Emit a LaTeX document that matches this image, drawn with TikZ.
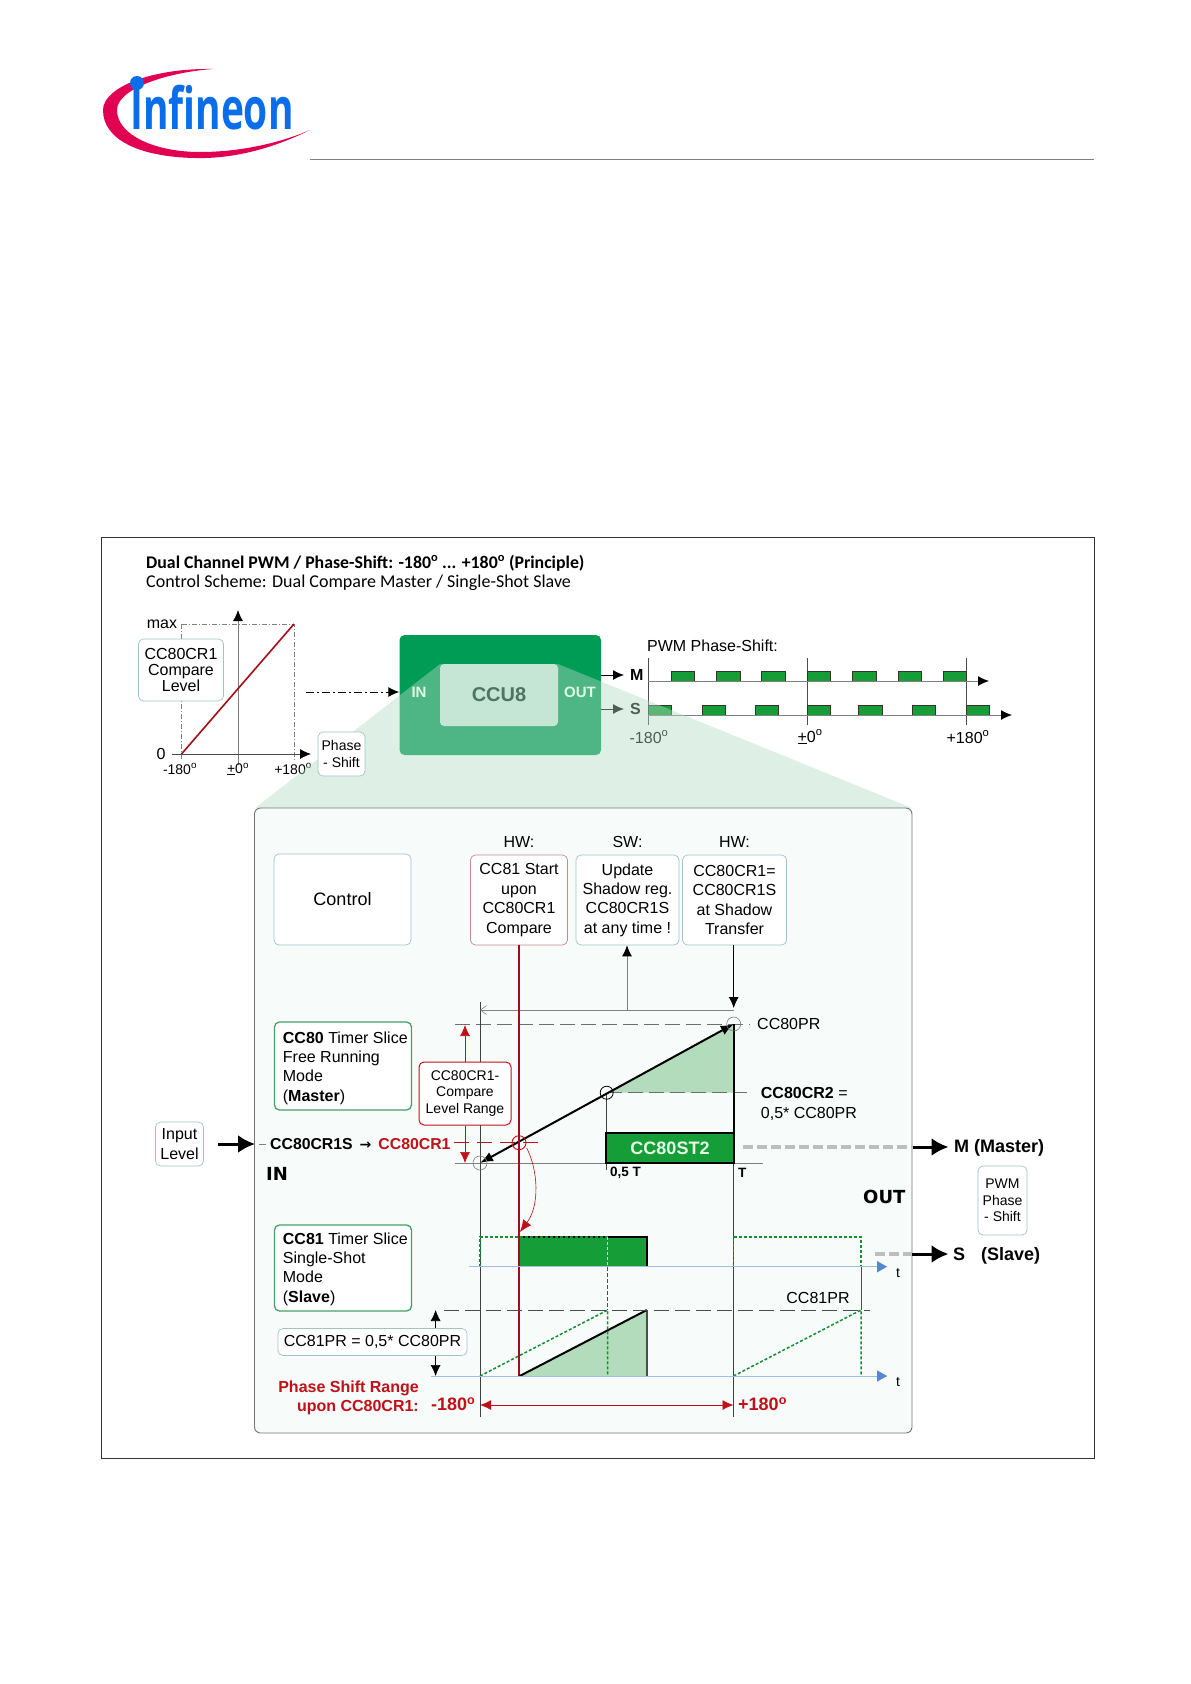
\documentclass[tikz,border=0pt]{standalone}
\usepackage{fontspec}
\setmainfont{Liberation Sans}
\newfontfamily\titlefont{Carlito}
\newfontfamily\logofont[FakeStretch=0.67]{Open Sans}
\newfontfamily\arrowfont{DejaVu Sans}
\usetikzlibrary{arrows.meta, calc}
\definecolor{logored}{RGB}{226,0,80}
\definecolor{logoblue}{RGB}{10,110,235}
\definecolor{ccudark}{RGB}{0,155,85}
\definecolor{ccuinner}{RGB}{197,230,213}
\definecolor{ccutext}{RGB}{80,115,100}
\definecolor{funnel}{RGB}{179,218,195}
\definecolor{panelbg}{RGB}{247,251,250}
\definecolor{pulsegreen}{RGB}{21,158,55}
\definecolor{trilight}{RGB}{178,220,187}
\definecolor{myred}{RGB}{192,16,24}
\definecolor{mygray}{RGB}{110,110,110}
\definecolor{mgframe}{RGB}{160,195,200}
\definecolor{redframe}{RGB}{195,140,140}
\definecolor{greenframe}{RGB}{70,160,105}
\definecolor{axisblue}{RGB}{85,135,205}
\definecolor{dashgray}{RGB}{190,190,190}
\newcommand{\dg}{\textsuperscript{o}}
\tikzset{
  lbl/.style={inner sep=0pt, align=center, font=\fontsize{16}{19.4}\selectfont},
  lblleft/.style={inner sep=0pt, align=left, anchor=west, font=\fontsize{16}{19.4}\selectfont},
  lblsmall/.style={inner sep=0pt, align=center, font=\fontsize{14}{16.7}\selectfont},
  lblbold/.style={inner sep=0pt, anchor=west, font=\fontsize{18}{21}\selectfont\bfseries},
  lblheavy/.style={inner sep=0pt, anchor=west, font=\fontsize{18}{21}\arrowfont\bfseries},
  infobox/.style={rectangle, draw=mgframe, fill=white, rounded corners=5pt, line width=0.7pt,
    inner sep=0pt, align=center, font=\fontsize{16}{19.4}\selectfont},
  redbox/.style={infobox, draw=redframe},
  slicebox/.style={rectangle, draw=greenframe, fill=white, rounded corners=5pt, line width=1.3pt,
    inner sep=0pt},
  rangebox/.style={infobox, draw=myred, line width=1pt, font=\fontsize{14}{16.7}\selectfont},
  blackhead/.style={-{Latex[length=11pt,width=10pt,black]}, color=black},
  grayline/.style={color=gray, line width=0.6pt},
  thinline/.style={color=black!70, line width=0.6pt},
  guide/.style={color=mygray, line width=1pt, dash pattern=on 15pt off 6pt},
  greendash/.style={color=pulsegreen!90!black, line width=1.5pt, dash pattern=on 3pt off 2pt},
  fatarrow/.style={-{Latex[length=17pt,width=18pt]}, line width=3pt, color=black},
  graydash/.style={color=dashgray, line width=3.5pt, dash pattern=on 10pt off 4pt},
  pulse/.style={draw=black!80, fill=pulsegreen, line width=0.9pt},
  tagline/.style={color=myred, line width=0.7pt},
  redhead/.style={-{Latex[length=11pt,width=10pt]}, color=myred},
  blueaxis/.style={color=axisblue!55, line width=1pt},
  ringgray/.style={circle, draw=gray, minimum size=14pt, inner sep=0pt, line width=0.6pt},
}
\begin{document}
\begin{tikzpicture}[x=1pt, y=-1pt]
  \useasboundingbox (0,0) rectangle (1191,1684);
  % Logo
  \fill[logored] (310,130) .. controls (270,150) and (230,159) .. (195,158)
    .. controls (140,157) and (103,140) .. (103,110)
    .. controls (103,88) and (150,68) .. (213,69)
    .. controls (170,72) and (117,88) .. (117,110)
    .. controls (117,135) and (155,152) .. (200,152)
    .. controls (240,152) and (280,143) .. (310,130) -- cycle;
  \node[inner sep=0pt, anchor=base west, text=logoblue, font=\fontsize{58}{58}\logofont\bfseries] (logotext) at (130,129) {Infineon};
  \fill[logoblue] (137,83) circle (7);
  \draw[color=gray, line width=0.7pt] (310,159) -- (1094,159);

  % Outer frame
  \draw[line width=0.8pt, color=black!80] (101,537) rectangle (1094,1458);
  \node[inner sep=0pt, anchor=base west, font=\fontsize{17.8}{20}\titlefont\bfseries] (title) at (146,568) {Dual Channel PWM / Phase-Shift: -180\dg{} ... +180\dg{} (Principle)};
  \node[inner sep=0pt, anchor=base west, font=\fontsize{18}{20}\titlefont] (subtitle) at (146,587) {Control Scheme: Dual Compare Master / Single-Shot Slave};

  % Compare level chart
  \coordinate (xleft) at (172,754);
  \coordinate (xright) at (311,754);
  \coordinate (ybot) at (238,765);
  \coordinate (ytop) at (238,610);
  \draw[grayline, dash pattern=on 5pt off 2pt on 1pt off 2pt] (181.5,624) -- (294,624) -- (294,760);
  \draw[grayline, dash pattern=on 5pt off 2pt on 1pt off 2pt] (181.5,624) -- (181.5,760);
  \draw[blackhead, color=gray, line width=0.8pt] (ybot) -- (ytop);
  \draw[blackhead, color=black!70, line width=0.8pt] (xleft) -- (xright);
  \draw[color=myred!85!black, line width=1.6pt] (181.5,754) -- (294,624);
  \node[lbl] (maxlbl) at (162,624) {max};
  \node[lbl] (zerolbl) at (161,754) {0};
  \node[lblsmall] (ang0) at (180,769) {-180\dg};
  \node[lblsmall] (ang1) at (238,769) {\underline{+}0\dg};
  \node[lblsmall] (ang2) at (293,769) {+180\dg};
  \node[infobox, minimum width=85pt, minimum height=62pt, font=\fontsize{16}{16}\selectfont] (levelbox) at (181,670) {CC80CR1\\Compare\\Level};

  % CCU8 block
  \node[rectangle, fill=ccudark, rounded corners=5pt, minimum width=201.5pt, minimum height=120pt, inner sep=0pt] (ccu) at (500.25,695) {};
  \coordinate (dashstart) at (306,692);
  \draw[blackhead, line width=1pt, dash pattern=on 8pt off 3pt on 2pt off 3pt] (dashstart) -- (ccu.west |- dashstart);

  % PWM phase shift timing
  \coordinate (mtip) at (624,675);
  \coordinate (stip) at (624,709);
  \node[lblleft, font=\fontsize{16}{19}\selectfont\bfseries] (mlbl) at (630,675) {M};
  \node[lblleft, font=\fontsize{16}{19}\selectfont\bfseries] (slbl) at (630,709) {S};
  \draw[blackhead, line width=1pt] (ccu.east |- mtip) -- (mtip);
  \draw[blackhead, line width=1pt] (ccu.east |- stip) -- (stip);
  \node[lblleft] (pwmlbl) at (647,646) {PWM Phase-Shift:};
  \foreach \x in {648,807.3,966.7} {
    \draw[thinline] (\x,658) -- (\x,725);
  }
  \foreach \a/\b in {671/694, 716/740, 761.7/785, 807/830, 852.7/876.7, 898/921.7, 943/966.7} {
    \draw[pulse] (\a,681) -- (\a,671) -- (\b,671) -- (\b,681) -- cycle;
  }
  \foreach \a/\b in {648/671, 702/725, 755/778, 807/830, 858.7/882, 912/935.7, 966/989.7} {
    \draw[pulse] (\a,715) -- (\a,705) -- (\b,705) -- (\b,715) -- cycle;
  }
  \coordinate (maxis0) at (648,681);
  \coordinate (maxis1) at (989,681);
  \coordinate (saxis0) at (648,715);
  \coordinate (saxis1) at (1012,715);
  \draw[blackhead, color=gray, line width=1pt] (maxis0) -- (maxis1);
  \draw[blackhead, color=gray, line width=1pt] (saxis0) -- (saxis1);
  \node[lbl] (sang0) at (649,737) {-180\dg};
  \node[lbl] (sang1) at (810,737) {\underline{+}0\dg};
  \node[lbl] (sang2) at (968,737) {+180\dg};

  % Zoom funnel and detail panel
  \fill[funnel, fill opacity=0.43] (440,664) -- (558,664) -- (912,808) -- (255,808) -- cycle;
  \node[rectangle, fill=ccuinner, rounded corners=4pt, minimum width=118pt, minimum height=62pt, inner sep=0pt, text=ccutext, font=\fontsize{20}{22}\selectfont\bfseries] (ccuinner) at (499,695) {CCU8};
  \node[inner sep=0pt, text=white!88!green, font=\fontsize{15}{18}\selectfont\bfseries] (inlbl) at (419,692) {IN};
  \node[inner sep=0pt, text=white!88!green, font=\fontsize{15}{18}\selectfont\bfseries] (outlbl) at (580,692) {OUT};
  \node[infobox, minimum width=47pt, minimum height=44pt, font=\fontsize{14}{16.7}\selectfont] (phasebox) at (341.5,754) {Phase\\- Shift};
  \draw[fill=panelbg, draw=black!55, line width=0.9pt, rounded corners=6pt] (254.5,808) rectangle (912,1433);

  % Control row
  \node[infobox, minimum width=137pt, minimum height=91pt, font=\fontsize{18}{21}\selectfont] (ctrl) at (342.5,899.5) {Control};
  \node[redbox, minimum width=97pt, minimum height=90pt] (hwstart) at (519,900) {CC81 Start\\upon\\CC80CR1\\Compare};
  \node[infobox, minimum width=103pt, minimum height=90pt] (swupdate) at (627.5,900) {Update\\Shadow reg.\\CC80CR1S\\at any time !};
  \node[infobox, minimum width=104pt, minimum height=90pt] (hwxfer) at (734.5,900) {CC80CR1=\\CC80CR1S\\at Shadow\\Transfer};
  \node[lbl] (hw1) at (519,842) {HW:};
  \node[lbl] (sw1) at (627.5,842) {SW:};
  \node[lbl] (hw2) at (734.5,842) {HW:};

  % CC80 ramp
  \coordinate (origin) at (480,1163);
  \coordinate (peak) at (733.7,1024);
  \coordinate (half) at (606.7,1092.7);
  \coordinate (cross) at (519,1142.7);
  \fill[trilight] (half) -- (peak) -- (733.7,1092.7) -- cycle;
  \draw[guide] (455,1024) -- (750,1024);
  \draw[guide] (half) -- (747,1092.7);
  \draw[grayline] (455,1163) -- (763,1163);
  \draw[tagline, dash pattern=on 15pt off 8pt] (454,1142.7) -- (542,1142.7);
  \draw[color=black!75, line width=0.7pt] (480,1002) -- (480,1417);
  \draw[color=black!75, line width=0.7pt] (peak) -- (733.7,1417);
  \draw[color=black!75, line width=0.7pt] (606.7,1092.7) -- (606.7,1170);
  \coordinate (swtop) at (627,1010);
  \draw[grayline, {Straight Barb[length=6pt,width=9pt]}-] (480,1010) -- (733.7,1010);
  \draw[blackhead, color=gray, line width=0.8pt] (swtop) -- (swupdate.south -| swtop);
  \draw[blackhead, line width=0.8pt] (hwxfer.south -| peak) -- (733.7,1008);
  % CC80ST2 output slice
  \node[rectangle, draw=black, fill=pulsegreen, line width=2pt, minimum width=128pt, minimum height=30pt, inner sep=0pt, text=white!90!green, font=\fontsize{18}{21}\selectfont\bfseries] (st2) at (670,1148) {CC80ST2};
  \draw[color=black, line width=2.2pt] (peak) -- (st2.north -| peak);
  \draw[{Latex[length=13pt,width=10pt]}-{Latex[length=13pt,width=10pt]}, line width=2pt] (origin) -- (peak);
  \node[ringgray] (ringorigin) at (origin) {};
  \node[ringgray] (ringpeak) at (peak) {};
  \node[circle, draw=black, minimum size=13pt, inner sep=0pt, line width=0.8pt] (ringhalf) at (half) {};
  \node[lblleft] (prlbl) at (757,1024) {CC80PR};
  \node[lblleft] (cr2lbl) at (760.7,1104) {\textbf{CC80CR2} =\\0,5* CC80PR};
  \node[lblleft, font=\fontsize{13.5}{16}\selectfont\bfseries] (halflbl) at (610,1173) {0,5 T};
  \node[lblleft, font=\fontsize{13.5}{16}\selectfont\bfseries] (tlbl) at (738,1173) {T};

  % Compare range
  \node[rangebox, minimum width=92pt, minimum height=63pt] (rangelbl) at (465,1093.5) {CC80CR1-\\Compare\\Level Range};
  \coordinate (rangetop) at (465,1025);
  \coordinate (rangebot) at (465,1163);
  \draw[redhead, line width=0.7pt] (rangelbl.north) -- (rangetop);
  \draw[redhead, line width=0.7pt] (rangelbl.south) -- (rangebot);

  % Red start line
  \coordinate (redbot) at (519,1376);
  \draw[color=myred!85!black, line width=1.8pt] (hwstart.south) -- (redbot);
  \node[circle, draw=myred, minimum size=14pt, inner sep=0pt, line width=0.9pt] (ringcross) at (cross) {};

  % Slice boxes
  \node[slicebox, minimum width=137pt, minimum height=88pt] (cc80box) at (343,1066) {};
  \node[lblleft] (cc80text) at (282.7,1068) {\textbf{CC80} Timer Slice\\Free Running\\Mode\\(\textbf{Master})};
  \node[slicebox, minimum width=137pt, minimum height=86pt] (cc81box) at (343,1268) {};
  \node[lblleft] (cc81text) at (282.7,1269) {\textbf{CC81} Timer Slice\\Single-Shot\\Mode\\(\textbf{Slave})};

  % Input level
  \node[infobox, minimum width=48pt, minimum height=44pt] (inputbox) at (179.5,1144) {Input\\Level};
  \coordinate (inputtip) at (255,1144);
  \coordinate (inputstart) at (218,1144);
  \draw[fatarrow] (inputstart) -- (inputtip);
  \draw[color=gray, line width=1pt] (259,1144) -- (266,1144);
  \node[lblleft, font=\fontsize{15.8}{19}\selectfont\bfseries] (cr1slbl) at (270,1144) {CC80CR1S\hspace{7pt}{\fontsize{14}{19}\arrowfont →}\hspace{7pt}\textcolor{myred}{CC80CR1}};
  \node[lblheavy] (inhead) at (266,1174) {IN};
  \node[lblheavy] (outhead) at (863,1197) {OUT};

  % Outputs
  \coordinate (mdash0) at (743,1147);
  \coordinate (mdash1) at (913,1147);
  \coordinate (mout) at (948.5,1147);
  \coordinate (sdash0) at (875,1254);
  \coordinate (sdash1) at (912,1254);
  \coordinate (sout) at (948.5,1254);
  \draw[graydash] (mdash0) -- (mdash1);
  \draw[fatarrow] (mdash1) -- (mout);
  \draw[graydash] (sdash0) -- (sdash1);
  \draw[fatarrow] (sdash1) -- (sout);
  \node[lblbold] (masterlbl) at (954,1148) {M (Master)};
  \node[lblbold] (slavelbl) at (953,1256) {S\hspace{11pt} (Slave)};
  \node[infobox, minimum width=49pt, minimum height=69pt, font=\fontsize{14}{16.7}\selectfont] (pwmbox) at (1002.5,1200.5) {PWM\\Phase\\- Shift};

  % CC81 pulse
  \coordinate (pulse0) at (519.7,1266.7);
  \coordinate (pulse1) at (646.8,1266.7);
  \fill[pulsegreen] (519.7,1237) rectangle (646.8,1266.7);
  \draw[color=black, line width=2pt] (519.7,1237) -- (646.8,1237) -- (pulse1);
  \draw[greendash] (480,1267) -- (480,1237) -- (607.7,1237);
  \draw[color=white!70!pulsegreen, line width=1.2pt, dash pattern=on 3pt off 2pt] (607.7,1237) -- (607.7,1267);
  \draw[greendash] (733.5,1267) -- (733.5,1237) -- (861,1237) -- (861,1267);
  \draw[color=black!70, line width=0.7pt, dash pattern=on 4pt off 2pt] (607.7,1267) -- (607.7,1310);
  \draw[color=black!70, line width=0.7pt] (861,1267) -- (861,1310);

  % CC81 ramps
  \coordinate (ramp0) at (519.7,1376);
  \coordinate (ramp1) at (646.8,1310);
  \fill[trilight] (ramp0) -- (ramp1) -- (646.8,1376) -- cycle;
  \draw[color=black!70, line width=1.8pt] (ramp1) -- (646.8,1376);
  \draw[color=black, line width=2pt] (ramp0) -- (ramp1);
  \draw[greendash] (480,1376) -- (607.7,1310) -- (607.7,1376);
  \draw[greendash] (733.5,1376) -- (861,1310) -- (861,1376);
  \draw[guide, color=black!70, line width=0.8pt] (444,1310) -- (870,1310);
  \node[lbl] (pr81lbl) at (818,1298) {CC81PR};

  % Time axes
  \coordinate (taxis0) at (468.5,1266.7);
  \coordinate (taxis1) at (887,1266.7);
  \coordinate (baxis0) at (431,1376);
  \coordinate (baxis1) at (887,1376);
  \draw[blueaxis] (taxis0) -- (taxis1);
  \draw[blueaxis] (baxis0) -- (baxis1);
  \fill[axisblue] (887,1266.7) -- (877,1261) -- (877,1272.5) -- cycle;
  \fill[axisblue] (887,1376) -- (877,1370.3) -- (877,1381.7) -- cycle;
  \node[lbl, font=\fontsize{14}{16}\selectfont] (t1) at (898,1273) {t};
  \node[lbl, font=\fontsize{14}{16}\selectfont] (t2) at (898,1382) {t};

  % CC81PR span
  \node[infobox, minimum width=189pt, minimum height=27pt] (pr81box) at (372.5,1342) {CC81PR = 0,5* CC80PR};
  \coordinate (spantop) at (435.6,1310);
  \coordinate (spanbot) at (435.6,1376);
  \draw[blackhead, line width=0.6pt] (pr81box.north -| spantop) -- (spantop);
  \draw[blackhead, line width=0.6pt] (pr81box.south -| spanbot) -- (spanbot);

  % Red range labels
  \node[inner sep=0pt, anchor=east, align=right, text=myred, font=\fontsize{16}{19.4}\selectfont\bfseries] (rangetxt) at (419,1398) {Phase Shift Range\\upon CC80CR1:};
  \node[inner sep=0pt, anchor=west, text=myred, font=\fontsize{18}{21}\selectfont\bfseries] (minus) at (431,1404) {-180\dg};
  \node[inner sep=0pt, anchor=west, text=myred, font=\fontsize{18}{21}\selectfont\bfseries] (plus) at (738,1404) {+180\dg};
  \coordinate (rngleft) at (480,1405);
  \coordinate (rngright) at (733.5,1405);
  \draw[{Latex[length=11pt,width=10pt]}-{Latex[length=11pt,width=10pt]}, color=myred, line width=0.9pt] (rngleft) -- (rngright);
  \draw[-{Latex[length=12pt,width=10pt]}, color=myred, line width=0.6pt] (526.7,1148) .. controls (538,1170) and (540,1205) .. (520,1232);
\end{tikzpicture}
\end{document}
